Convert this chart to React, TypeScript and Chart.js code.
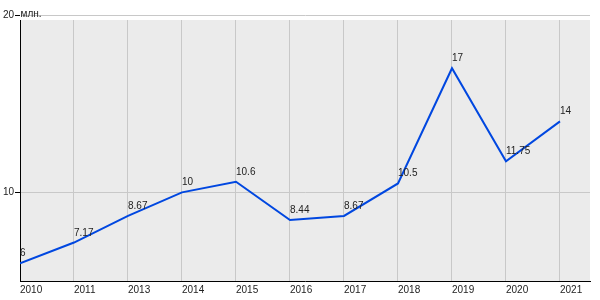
import React, { useEffect, useRef } from 'react';
import { Chart, registerables } from 'chart.js';

Chart.register(...registerables);

const categories = ['2010', '2011', '2013', '2014', '2015', '2016', '2017', '2018', '2019', '2020', '2021'];
const values = [6, 7.17, 8.67, 10, 10.6, 8.44, 8.67, 10.5, 17, 11.75, 14];
const valueLabels = ['6', '7.17', '8.67', '10', '10.6', '8.44', '8.67', '10.5', '17', '11.75', '14'];
const yTicks = [10, 20];
const unitLabel = 'млн.';

const FONT = 'Arial, "Liberation Sans", sans-serif';

export default function App() {
  const ref = useRef<HTMLCanvasElement | null>(null);

  useEffect(() => {
    document.body.style.margin = '0';
    const canvas = ref.current;
    if (!canvas) return;

    const bgPlugin = {
      id: 'bg',
      beforeDraw(chart: any) {
        const { ctx, chartArea } = chart;
        ctx.save();
        ctx.fillStyle = '#ebebeb';
        ctx.fillRect(chartArea.left, chartArea.top, chartArea.right - chartArea.left, chartArea.bottom - chartArea.top);
        ctx.restore();
      },
      afterDatasetsDraw(chart: any) {
        const { ctx, chartArea } = chart;
        const meta = chart.getDatasetMeta(0);
        ctx.save();
        ctx.font = `10px ${FONT}`;
        ctx.fillStyle = '#222';
        ctx.textAlign = 'left';
        ctx.textBaseline = 'alphabetic';
        meta.data.forEach((pt: any, i: number) => {
          ctx.fillText(valueLabels[i], pt.x, pt.y - 7);
        });
        const yScale = chart.scales.y;
        const y20 = yScale.getPixelForValue(20);
        ctx.fillText(unitLabel, chartArea.left + 0.5, y20 + 2);
        ctx.restore();
      },
    };

    const chart = new Chart(canvas, {
      type: 'line',
      data: {
        datasets: [
          {
            data: values.map((v, i) => ({ x: i, y: v })),
            borderColor: '#0047e0',
            borderWidth: 2,
            pointRadius: 0,
            tension: 0,
            fill: false,
          },
        ],
      },
      options: {
        animation: false,
        responsive: false,
        maintainAspectRatio: false,
        layout: { padding: { top: 20, right: 10, left: 0, bottom: 0 } },
        plugins: { legend: { display: false }, tooltip: { enabled: false } },
        scales: {
          x: {
            type: 'linear',
            min: 0,
            max: 10.556,
            afterBuildTicks: (s: any) => {
              s.ticks = categories.map((_, i) => ({ value: i }));
            },
            afterFit: (s: any) => {
              s.height = 19;
            },
            ticks: {
              autoSkip: false,
              maxRotation: 0,
              align: 'start',
              padding: 3,
              color: '#222',
              font: { size: 10, family: FONT },
              callback: (v: any) => categories[v as number] ?? '',
            },
            grid: { color: '#c8c8c8', drawTicks: false, lineWidth: 1 },
            border: { color: '#000', width: 1 },
          },
          y: {
            type: 'linear',
            min: 5,
            max: 19.72,
            afterBuildTicks: (s: any) => {
              s.ticks = yTicks.map((v) => ({ value: v }));
            },
            afterFit: (s: any) => {
              s.width = 20;
            },
            ticks: {
              padding: 1,
              color: '#222',
              font: { size: 10, family: FONT },
              callback: (v: any) => String(v),
            },
            grid: { color: '#c8c8c8', tickColor: '#000', tickLength: 5, lineWidth: 1 },
            border: { color: '#000', width: 1 },
          },
        },
      },
      plugins: [bgPlugin],
    } as any);

    return () => chart.destroy();
  }, []);

  return <canvas ref={ref} width={600} height={300} style={{ display: 'block' }} />;
}
